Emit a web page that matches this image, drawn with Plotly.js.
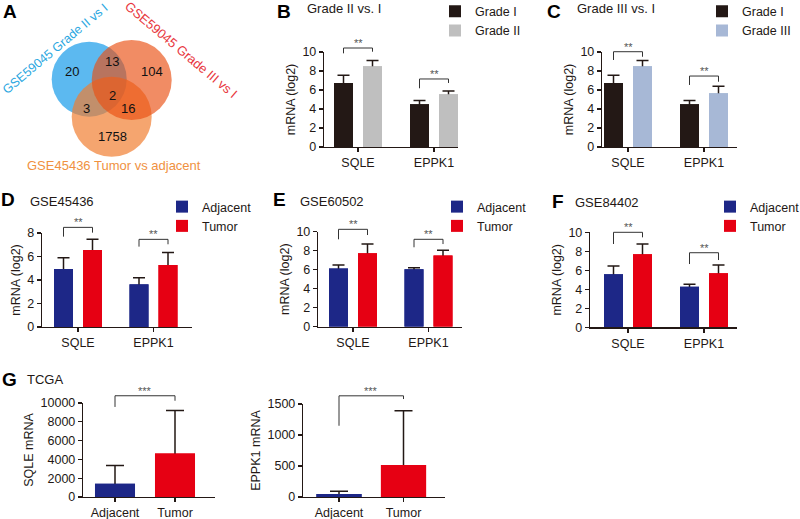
<!DOCTYPE html>
<html><head><meta charset="utf-8">
<script src="https://cdn.plot.ly/plotly-3.0.1.min.js"></script>
<style>html,body{margin:0;padding:0;background:#fff}#chart{width:800px;height:519px}</style>
</head><body><div id="chart"></div>
<script>
// ---------------- DATA ----------------
const genes = ['SQLE', 'EPPK1'];
const groupsTN = ['Adjacent', 'Tumor'];
// B: Grade II vs. I
const b_gradeI = [6.75, 4.5],  b_gradeI_err = [0.8, 0.4];
const b_gradeII = [8.5, 5.55], b_gradeII_err = [0.6, 0.35];
// C: Grade III vs. I
const c_gradeI = [6.75, 4.5],   c_gradeI_err = [0.8, 0.4];
const c_gradeIII = [8.5, 5.65], c_gradeIII_err = [0.6, 0.75];
// D: GSE45436
const d_adj = [4.94, 3.63], d_adj_err = [0.96, 0.57];
const d_tum = [6.55, 5.28], d_tum_err = [0.91, 1.05];
// E: GSE60502
const e_adj = [6.13, 6.04], e_adj_err = [0.37, 0.17];
const e_tum = [7.72, 7.5],  e_tum_err = [0.98, 0.55];
// F: GSE84402
const f_adj = [5.58, 4.28], f_adj_err = [0.87, 0.25];
const f_tum = [7.68, 5.68], f_tum_err = [1.09, 0.88];
// G: TCGA
const g_sqle = [1400, 4630], g_sqle_err = [1940, 4560];
const g_eppk1 = [48, 516],   g_eppk1_err = [43, 877];
// A: Venn
const vennLabels = ['GSE59045 Grade II vs I', 'GSE59045 Grade III vs I', 'GSE45436 Tumor vs adjacent'];
const vennCounts = [20, 13, 104, 2, 3, 16, 1758];

// ---------------- STYLE / LAYOUT ----------------
const W = 800, H = 519;
const ink = '#231815';
const FONT = '"Liberation Sans", Arial, sans-serif';
const TF = 12.5;
const COL = {gI: '#231815', gII: '#bfbfbf', gIII: '#a7b8d6', adj: '#1d2787', tum: '#e60013'};
const PX = x => x / W, PY = y => 1 - y / H;

const panels = [
  {xpx: [324, 458], c0: 358, sp: 76,   ypx: [147, 52],     top: 10,    dtick: 2,    ytitle: 'mRNA (log2)', cats: genes},
  {xpx: [602, 737], c0: 628, sp: 76,   ypx: [147, 52],     top: 10,    dtick: 2,    ytitle: 'mRNA (log2)', cats: genes},
  {xpx: [42, 192],  c0: 78,  sp: 75.5, ypx: [327, 233],    top: 8,     dtick: 2,    ytitle: 'mRNA (log2)', cats: genes},
  {xpx: [318, 462], c0: 353, sp: 75.5, ypx: [326.7, 231.7],top: 10,    dtick: 2,    ytitle: 'mRNA (log2)', cats: genes},
  {xpx: [590, 737], c0: 628, sp: 76,   ypx: [327.3, 232.3],top: 10,    dtick: 2,    ytitle: 'mRNA (log2)', cats: genes},
  {xpx: [83, 215],  c0: 115, sp: 60,   ypx: [497, 403],    top: 10000, dtick: 2000, ytitle: 'SQLE mRNA',   cats: groupsTN},
  {xpx: [303, 445], c0: 339, sp: 64.5, ypx: [497, 404],    top: 1500,  dtick: 500,  ytitle: 'EPPK1 mRNA',  cats: groupsTN}
];

const traces = [];
const layout = {
  width: W, height: H, margin: {l: 0, r: 0, t: 0, b: 0, autoexpand: false},
  paper_bgcolor: '#fff', plot_bgcolor: 'rgba(0,0,0,0)',
  barmode: 'overlay', font: {family: FONT, color: ink, size: 12},
  shapes: [], annotations: [], showlegend: true
};

panels.forEach((p, i) => {
  const s = i === 0 ? '' : String(i + 1);
  p.s = s;
  layout['xaxis' + s] = {
    domain: [PX(p.xpx[0]), PX(p.xpx[1])],
    range: [(p.xpx[0] - p.c0) / p.sp, (p.xpx[1] - p.c0) / p.sp],
    type: 'category', categoryorder: 'array', categoryarray: p.cats,
    anchor: 'y' + s, showline: true, linecolor: ink, linewidth: 1.2,
    ticks: 'outside', ticklen: 4, tickwidth: 1.2, tickcolor: ink,
    showgrid: false, zeroline: false, automargin: false, fixedrange: true,
    tickfont: {family: FONT, size: TF, color: ink}
  };
  layout['yaxis' + s] = {
    domain: [PY(p.ypx[0]), PY(p.ypx[1])], range: [0, p.top],
    anchor: 'x' + s, tick0: 0, dtick: p.dtick, tickformat: 'd', exponentformat: 'none',
    showline: true, linecolor: ink, linewidth: 1.2,
    ticks: 'outside', ticklen: 4, tickwidth: 1.2, tickcolor: ink,
    showgrid: false, zeroline: false, automargin: false, fixedrange: true,
    tickfont: {family: FONT, size: TF, color: ink},
    title: {text: p.ytitle, font: {family: FONT, size: 12.5, color: ink}, standoff: 4}
  };
});

function grouped(pi, a, aErr, b, bErr, names, cols, legendId) {
  const p = panels[pi], s = p.s;
  const w = 19 / p.sp, g = 5 / p.sp;
  const base = {type: 'bar', x: genes, xaxis: 'x' + s, yaxis: 'y' + s, width: w, hoverinfo: 'skip'};
  const eb = (arr, wd) => ({type: 'data', array: arr, symmetric: true, color: ink, thickness: 1.5, width: wd});
  traces.push(Object.assign({}, base, {y: a, name: names[0], offset: -(g + w), marker: {color: cols[0]}, error_y: eb(aErr, 6), legend: legendId}));
  traces.push(Object.assign({}, base, {y: b, name: names[1], offset: g, marker: {color: cols[1]}, error_y: eb(bErr, 6), legend: legendId}));
  // covers hide the lower half of the error bars
  traces.push(Object.assign({}, base, {y: a, name: names[0], offset: -(g + w), marker: {color: cols[0]}, showlegend: false}));
  traces.push(Object.assign({}, base, {y: b, name: names[1], offset: g, marker: {color: cols[1]}, showlegend: false}));
  return (g + w / 2);
}
function single(pi, vals, errs, wd) {
  const p = panels[pi], s = p.s;
  const base = {type: 'bar', x: groupsTN, y: vals, xaxis: 'x' + s, yaxis: 'y' + s, width: wd, hoverinfo: 'skip', showlegend: false,
    marker: {color: [COL.adj, COL.tum]}};
  traces.push(Object.assign({}, base, {error_y: {type: 'data', array: errs, symmetric: true, color: ink, thickness: 1.5, width: 9}}));
  traces.push(Object.assign({}, base));
}

const off = [];
off[0] = grouped(0, b_gradeI, b_gradeI_err, b_gradeII, b_gradeII_err, ['Grade I', 'Grade II'], [COL.gI, COL.gII], 'legend');
off[1] = grouped(1, c_gradeI, c_gradeI_err, c_gradeIII, c_gradeIII_err, ['Grade I', 'Grade III'], [COL.gI, COL.gIII], 'legend2');
off[2] = grouped(2, d_adj, d_adj_err, d_tum, d_tum_err, ['Adjacent', 'Tumor'], [COL.adj, COL.tum], 'legend3');
off[3] = grouped(3, e_adj, e_adj_err, e_tum, e_tum_err, ['Adjacent', 'Tumor'], [COL.adj, COL.tum], 'legend4');
off[4] = grouped(4, f_adj, f_adj_err, f_tum, f_tum_err, ['Adjacent', 'Tumor'], [COL.adj, COL.tum], 'legend5');
single(5, g_sqle, g_sqle_err, 0.667);
single(6, g_eppk1, g_eppk1_err, 0.7);

// significance brackets: [bracket top, left leg end, right leg end] per category pair
const brackets = [
  {sig: '**', items: [[10.42, 9.86, 10.03], [7.16, 6.18, 6.74]]},
  {sig: '**', items: [[10.03, 9.16, 9.5], [7.47, 6.53, 6.87]]},
  {sig: '**', items: [[8.48, 7.69, 8.03], [7.46, 6.84, 7.04]]},
  {sig: '**', items: [[10.25, 9.2, 9.65], [9.2, 8.36, 8.7]]},
  {sig: '**', items: [[10.0, 8.77, 9.47], [7.85, 6.66, 7.08]]},
  {sig: '***', items: [[10770, 9580, 10240]]},
  {sig: '***', items: [[1632, 1149, 1580]]}
];
brackets.forEach((bk, pi) => {
  const p = panels[pi], s = p.s;
  bk.items.forEach((it, j) => {
    let xl, xr, xc;
    if (pi < 5) { xl = j - off[pi]; xr = j + off[pi]; xc = j; }
    else { xl = 0; xr = 1; xc = 0.5; }
    const ln = {color: '#333', width: 1};
    const ref = {xref: 'x' + s, yref: 'y' + s + ' domain', type: 'line', line: ln};
    layout.shapes.push(Object.assign({}, ref, {x0: xl, x1: xl, y0: it[1] / p.top, y1: it[0] / p.top}));
    layout.shapes.push(Object.assign({}, ref, {x0: xl, x1: xr, y0: it[0] / p.top, y1: it[0] / p.top}));
    layout.shapes.push(Object.assign({}, ref, {x0: xr, x1: xr, y0: it[0] / p.top, y1: it[2] / p.top}));
    layout.annotations.push({xref: 'x' + s, yref: 'y' + s + ' domain', x: xc, y: it[0] / p.top,
      text: bk.sig, showarrow: false, yanchor: 'bottom', xanchor: 'center', yshift: -3,
      font: {family: FONT, size: 11, color: '#555'}});
  });
});

// legends
function lg(textX, firstRowY) {
  return {x: PX(textX - 40), y: PY(firstRowY - 15), xanchor: 'left', yanchor: 'top',
    bgcolor: 'rgba(0,0,0,0)', borderwidth: 0, itemwidth: 30, tracegroupgap: 0,
    font: {family: FONT, size: 12.5, color: ink}, itemclick: false, itemdoubleclick: false};
}
layout.legend = lg(475, 11.5);
layout.legend2 = lg(742, 11.5);
layout.legend3 = lg(202, 207);
layout.legend4 = lg(477, 207);
layout.legend5 = lg(750, 207);

// panel letters and titles
const letters = [['A', 10, 12], ['B', 284, 12], ['C', 554, 12], ['D', 8, 200], ['E', 279, 200], ['F', 558, 201], ['G', 9, 379]];
letters.forEach(l => layout.annotations.push({xref: 'paper', yref: 'paper', x: PX(l[1]), y: PY(l[2]), text: '<b>' + l[0] + '</b>',
  showarrow: false, xanchor: 'center', yanchor: 'middle', font: {family: FONT, size: 19, color: '#000'}}));
const subtitles = [['Grade II vs. I', 305, 8.5], ['Grade III vs. I', 575, 8.5], ['GSE45436', 28, 201], ['GSE60502', 298, 201], ['GSE84402', 573, 202], ['TCGA', 25, 379]];
subtitles.forEach(t => layout.annotations.push({xref: 'paper', yref: 'paper', x: PX(t[1]), y: PY(t[2]), text: t[0],
  showarrow: false, xanchor: 'left', yanchor: 'middle', font: {family: FONT, size: 13, color: ink}}));

// Venn diagram (A)
function circ(cx, cy, r, fill, op) {
  return {type: 'circle', xref: 'paper', yref: 'paper', x0: PX(cx - r), x1: PX(cx + r), y0: PY(cy + r), y1: PY(cy - r),
    fillcolor: fill, opacity: op, line: {width: 0}, layer: 'below'};
}
layout.shapes.unshift(
  circ(89.2, 79.2, 37.5, 'rgb(92,185,240)', 1),
  circ(111.7, 116.7, 40, 'rgb(240,125,46)', 0.69),
  circ(131.7, 80, 40, 'rgb(234,80,19)', 0.656)
);
const vennPos = [[72, 72], [112, 62], [152, 72], [113, 95], [86, 108], [128, 108], [112, 137]];
vennCounts.forEach((v, i) => layout.annotations.push({xref: 'paper', yref: 'paper', x: PX(vennPos[i][0]), y: PY(vennPos[i][1]),
  text: String(v), showarrow: false, xanchor: 'center', yanchor: 'middle', font: {family: FONT, size: 13, color: '#111'}}));
const vennLab = [[55, 49, -40, '#2aa7e1', 12.5], [180.5, 50, 40, '#e8363d', 13], [114, 165, 0, '#f0913f', 13]];
vennLabels.forEach((t, i) => layout.annotations.push({xref: 'paper', yref: 'paper', x: PX(vennLab[i][0]), y: PY(vennLab[i][1]),
  text: t, textangle: vennLab[i][2], showarrow: false, xanchor: 'center', yanchor: 'middle',
  font: {family: FONT, size: vennLab[i][4], color: vennLab[i][3]}}));

Plotly.newPlot('chart', traces, layout, {displayModeBar: false, staticPlot: true});
</script></body></html>
